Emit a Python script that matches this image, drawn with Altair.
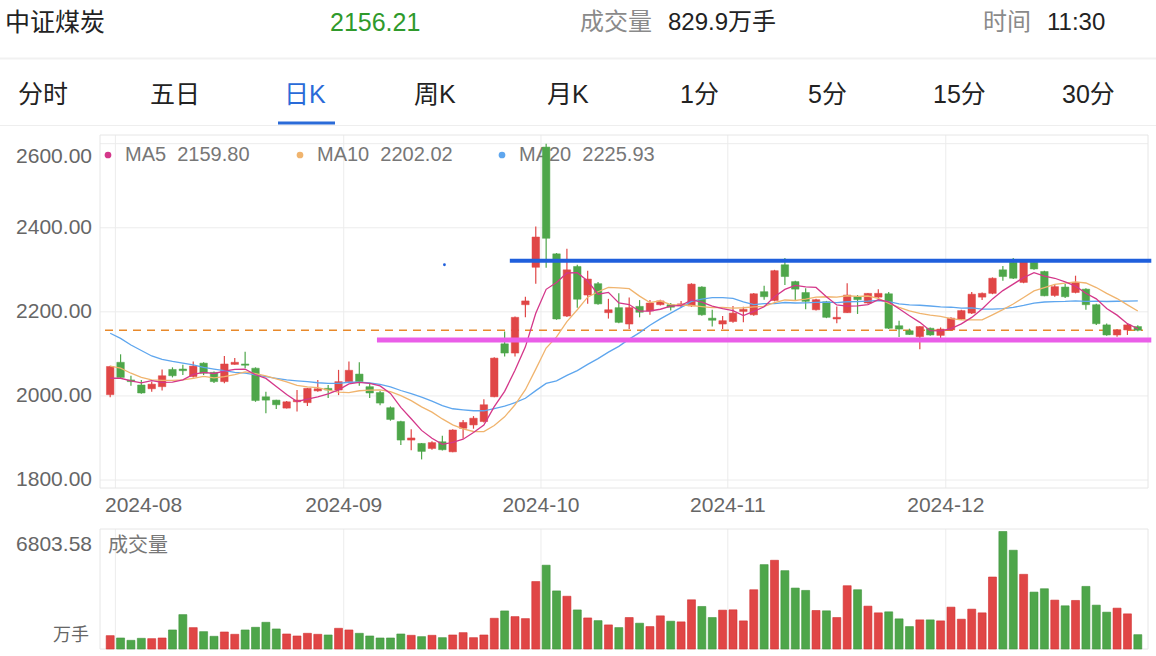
import altair as alt
import pandas as pd

# ---------------- data ----------------
opens = [2003, 2080, 2038, 2026, 2017, 2022, 2063, 2064, 2046, 2078,
         2056, 2034, 2075, 2076, 2066, 1998, 1990, 1971, 1986, 1984,
         2012, 2018, 2014, 2034, 2052, 2022, 2008, 1972, 1939, 1895,
         1887, 1875, 1891, 1867, 1923, 1931, 1939, 1998, 2124, 2102,
         2217, 2306, 2592, 2338, 2190, 2308, 2240, 2267, 2198, 2210,
         2171, 2213, 2202, 2217, 2217, 2214, 2214, 2259, 2185, 2171,
         2177, 2201, 2193, 2248, 2227, 2312, 2272, 2246, 2205, 2224,
         2183, 2198, 2236, 2221, 2235, 2243, 2167, 2155, 2141, 2161,
         2144, 2157, 2183, 2197, 2235, 2244, 2300, 2318, 2270, 2318,
         2296, 2239, 2259, 2246, 2254, 2217, 2169, 2145, 2157, 2165]
closes = [2070, 2044, 2034, 2007, 2028, 2048, 2048, 2060, 2071, 2054,
          2034, 2076, 2080, 2073, 1989, 1990, 1979, 1986, 1990, 2018,
          2017, 2014, 2034, 2061, 2034, 2007, 1983, 1944, 1895, 1900,
          1868, 1889, 1872, 1919, 1937, 1947, 1979, 2090, 2102, 2187,
          2226, 2378, 2375, 2183, 2300, 2230, 2278, 2219, 2205, 2175,
          2210, 2199, 2221, 2226, 2211, 2219, 2266, 2193, 2180, 2179,
          2197, 2206, 2243, 2236, 2298, 2284, 2254, 2225, 2229, 2187,
          2187, 2240, 2229, 2244, 2244, 2161, 2159, 2146, 2165, 2145,
          2159, 2185, 2203, 2242, 2244, 2280, 2284, 2280, 2319.4, 2302,
          2238.2, 2260, 2236, 2270, 2217, 2171.8, 2145, 2157, 2169, 2156.21]
highs = [2072, 2099, 2048, 2038, 2034, 2063, 2068, 2074, 2082, 2080,
         2058, 2095, 2090, 2105, 2068, 2010, 1991, 1988, 2014, 2019,
         2038, 2026, 2062, 2082, 2080, 2031, 2012, 1975, 1941, 1921,
         1888, 1892, 1905, 1921, 1943, 1952, 1992, 2092, 2153, 2189,
         2236, 2403, 2600, 2340, 2350, 2312, 2298, 2271, 2231, 2244,
         2234, 2228, 2228, 2229, 2221, 2226, 2268, 2261, 2205, 2190,
         2214, 2212, 2245, 2262, 2300, 2328, 2274, 2256, 2231, 2226,
         2213, 2268, 2240, 2245, 2254, 2247, 2179, 2160, 2166, 2163,
         2163, 2187, 2205, 2247, 2246, 2282, 2309, 2328, 2322, 2320,
         2298, 2266, 2266, 2286, 2256, 2219, 2172, 2159, 2172, 2168]
lows = [1997, 2042, 2024, 2005, 2010, 2013, 2044, 2050, 2044, 2050,
        2031, 2030, 2074, 2066, 1986, 1959, 1969, 1970, 1963, 1976,
        2010, 1995, 2002, 2032, 2024, 1995, 1978, 1941, 1883, 1871,
        1849, 1872, 1870, 1866, 1899, 1922, 1937, 1997, 2094, 2094,
        2187, 2267, 2305, 2181, 2188, 2210, 2219, 2217, 2184, 2173,
        2159, 2187, 2193, 2215, 2203, 2209, 2212, 2191, 2165, 2159,
        2174, 2175, 2191, 2229, 2225, 2264, 2227, 2206, 2203, 2185,
        2173, 2197, 2195, 2219, 2233, 2159, 2140, 2145, 2111, 2143,
        2136, 2155, 2181, 2195, 2228, 2242, 2274, 2278, 2268, 2300,
        2237, 2236, 2233, 2244, 2205, 2169, 2143, 2141, 2145, 2154]
volumes = [773, 638, 503, 619, 599, 638, 1102, 1991, 1237, 1005,
           735, 986, 851, 1102, 1256, 1546, 1160, 870, 754, 909,
           851, 812, 1198, 1102, 909, 754, 638, 638, 870, 793,
           715, 793, 657, 812, 947, 657, 812, 1778, 2204, 1875,
           1759, 3905, 4852, 3363, 3054, 2262, 1798, 1643, 1395, 1240,
           1822, 1493, 1299, 1919, 1609, 1570, 2849, 2462, 1822, 2249,
           2268, 1628, 3431, 4885, 5137, 4536, 3528, 3392, 2229, 2210,
           1822, 3664, 3431, 2481, 2093, 2152, 1745, 1299, 1686, 1686,
           1628, 2423, 1725, 2307, 2093, 4168, 6803.58, 5718, 4323, 3295,
           3489, 2830, 2501, 2811, 3625, 2539, 2132, 2365, 2035, 829.9]
# moving-average values before a full window exists
ma5_head = [2042, 2042, 2036, 2031]
ma10_head = [2071, 2066, 2054, 2044, 2038, 2037, 2037, 2038, 2042]
ma20_head = [2149, 2137, 2121, 2108, 2095, 2087, 2082, 2078, 2074, 2068,
             2064, 2060, 2056, 2054, 2050, 2046, 2042, 2038, 2036]

month_labels = ["2024-08", "2024-09", "2024-10", "2024-11", "2024-12"]
month_first_idx = [1, 23, 42, 60, 81]
price_ticks = [1800, 2000, 2200, 2400, 2600]
vol_max = 6803.58
support_level, support_from = 2133.3, 25.7
resist_level, resist_from = 2321.4, 38.5
line_to = 100.3
dot_idx, dot_val = 32.2, 2312

tabs = ["分时", "五日", "日K", "周K", "月K", "1分", "5分", "15分", "30分"]
tab_x = [18, 150, 284, 414, 547, 680, 808, 933, 1062]

# ---------------- derived tables ----------------
n = len(closes)
df = pd.DataFrame({"i": list(range(n)), "open": opens, "close": closes,
                   "high": highs, "low": lows, "vol": volumes})
s = pd.Series(closes)
ma5 = s.rolling(5).mean()
ma10 = s.rolling(10).mean()
ma20 = s.rolling(20).mean()
ma5.iloc[:4] = ma5_head
ma10.iloc[:9] = ma10_head
ma20.iloc[:19] = ma20_head
df["ma5"], df["ma10"], df["ma20"] = ma5.values, ma10.values, ma20.values
up = df[df["close"] >= df["open"]]
down = df[df["close"] < df["open"]]

FONT = "Liberation Sans, Noto Sans CJK SC, sans-serif"
RED, GREEN = "#e04646", "#4ea64a"
C5, C10, C20 = "#d4378a", "#f0b46e", "#5ea6ee"
AX = 21  # axis label size
NB = "\u00a0"

XS = alt.Scale(domain=[-0.5, n - 0.5], range=[100, 1148], nice=False, zero=False)
PY = alt.Scale(domain=[1800, 2600], range=[480, 143.7], nice=False, zero=False)
VY = alt.Scale(domain=[0, vol_max], range=[649, 531.5], nice=False, zero=True)

one = pd.DataFrame({"k": [0]})


def X(f):
    return alt.X(f, type="quantitative", scale=XS, axis=None)


def PYenc(f):
    return alt.Y(f, type="quantitative", scale=PY, axis=None)


def label(s, x, y, size, color, align="left", baseline="middle"):
    return alt.Chart(one).mark_text(text=s, align=align, baseline=baseline, fontSize=size,
                                    color=color, font=FONT).encode(x=alt.value(x), y=alt.value(y))


def hline(x1, x2, y, color, w):
    return alt.Chart(one).mark_rule(color=color, strokeWidth=w).encode(
        x=alt.value(x1), x2=alt.value(x2), y=alt.value(y))


layers = []
# header
layers += [
    label("中证煤炭", 5, 23, 25, "#222222"),
    label(f"{closes[-1]:.2f}", 330, 23, 25, "#2f9a2c"),
    label("成交量", 580, 23, 24, "#8a8a8a"),
    label(f"{volumes[-1]:.1f}万手", 668, 23, 24, "#222222"),
    label("时间", 983, 23, 24, "#8a8a8a"),
    label("11:30", 1047, 23, 24, "#222222"),
    hline(0, 1156, 58.5, "#f1f1f1", 2),
]
for t, x in zip(tabs, tab_x):
    layers.append(label(t, x, 95, 25, "#2a6bd8" if t == "日K" else "#222222"))
layers += [hline(278, 335, 123, "#2a6bd8", 3), hline(0, 1156, 125.5, "#eeeeee", 1)]

# price panel grid and frame
gy = pd.DataFrame({"v": price_ticks})
gm = pd.DataFrame({"b": [k - 0.5 for k in month_first_idx], "lab": month_labels})
layers += [
    alt.Chart(gy).mark_rule(color="#ececec", strokeWidth=1).encode(
        y=PYenc("v"), x=alt.value(100), x2=alt.value(1148)),
    alt.Chart(gm).mark_rule(color="#ececec", strokeWidth=1).encode(
        x=X("b"), y=alt.value(135), y2=alt.value(488)),
    alt.Chart(gm).mark_rule(color="#ececec", strokeWidth=1).encode(
        x=X("b"), y=alt.value(529), y2=alt.value(649)),
    alt.Chart(one).mark_rect(fillOpacity=0, stroke="#e6e6e6", strokeWidth=1).encode(
        x=alt.value(100), x2=alt.value(1148), y=alt.value(135), y2=alt.value(488)),
    alt.Chart(one).mark_rect(fillOpacity=0, stroke="#e6e6e6", strokeWidth=1).encode(
        x=alt.value(100), x2=alt.value(1148), y=alt.value(529), y2=alt.value(649)),
]
# y labels
layers += [
    alt.Chart(gy[gy["v"] < max(price_ticks)]).mark_text(align="right", baseline="middle", fontSize=AX,
                                                       color="#666666", font=FONT).encode(
        y=PYenc("v"), x=alt.value(92), text=alt.Text("v:Q", format=".2f")),
    alt.Chart(gy[gy["v"] == max(price_ticks)]).mark_text(align="right", baseline="top", fontSize=AX, dy=2,
                                                        color="#666666", font=FONT).encode(
        y=PYenc("v"), x=alt.value(92), text=alt.Text("v:Q", format=".2f")),
]
# x labels
first = gm.iloc[:1].assign(b=-0.5)
layers += [
    alt.Chart(first).mark_text(align="left", baseline="middle", fontSize=AX, color="#666666",
                               font=FONT).encode(x=X("b"), y=alt.value(506), text="lab:N"),
    alt.Chart(gm.iloc[1:]).mark_text(align="center", baseline="middle", fontSize=AX, color="#666666",
                                     font=FONT).encode(x=X("b"), y=alt.value(506), text="lab:N"),
]
# legend
for name, col, vals, dx in [("MA5", C5, ma5, 108), ("MA10", C10, ma10, 300), ("MA20", C20, ma20, 502)]:
    layers.append(alt.Chart(one).mark_point(filled=True, size=45, color=col, opacity=1).encode(
        x=alt.value(dx), y=alt.value(155)))
    layers.append(label(f"{name}{NB}{NB}{vals.iloc[-1]:.2f}", dx + 17, 155, 20, "#777777"))

# reference lines
refs_dash = pd.DataFrame({"v": [closes[-1]], "a": [-0.5], "b": [n - 0.5]})
refs_sup = pd.DataFrame({"v": [support_level], "a": [support_from], "b": [line_to]})
refs_res = pd.DataFrame({"v": [resist_level], "a": [resist_from], "b": [line_to]})
layers += [
    alt.Chart(refs_dash).mark_rule(color="#e8892b", strokeWidth=1.5, strokeDash=[8, 6]).encode(
        x=X("a"), x2="b:Q", y=PYenc("v")),
]

# candles
for d, col in [(up, RED), (down, GREEN)]:
    layers.append(alt.Chart(d).mark_rule(color=col, strokeWidth=1.2).encode(
        x=X("i"), y=PYenc("low"), y2="high:Q"))
    layers.append(alt.Chart(d).mark_bar(size=7.5, color=col, stroke=col, strokeWidth=0.5).encode(
        x=X("i"), y=PYenc("open"), y2="close:Q"))

# moving averages
for f, col in [("ma20", C20), ("ma10", C10), ("ma5", C5)]:
    layers.append(alt.Chart(df).mark_line(color=col, strokeWidth=1.3).encode(x=X("i"), y=PYenc(f)))

layers += [
    alt.Chart(refs_sup).mark_rule(color="#ea5ee8", strokeWidth=5).encode(x=X("a"), x2="b:Q", y=PYenc("v")),
    alt.Chart(refs_res).mark_rule(color="#1f5fdc", strokeWidth=4).encode(x=X("a"), x2="b:Q", y=PYenc("v")),
    alt.Chart(pd.DataFrame({"i": [dot_idx], "v": [dot_val]})).mark_point(
        filled=True, size=8, color="#1f5fdc", opacity=1).encode(x=X("i"), y=PYenc("v")),
]

# volume panel
for d, col, stk in [(up, RED, "#d13030"), (down, GREEN, "#3f943c")]:
    layers.append(alt.Chart(d).mark_bar(size=8, color=col, stroke=stk, strokeWidth=0.6).encode(
        x=X("i"), y=alt.Y("vol:Q", scale=VY, axis=None)))
layers += [
    label(f"{vol_max:.2f}", 92, 545, AX, "#666666", align="right"),
    label("万手", 89, 636, 18, "#666666", align="right"),
    label("成交量", 108, 546, 20, "#777777"),
]

chart = alt.layer(*layers).resolve_scale(y="independent").properties(
    width=1156, height=656, autosize=alt.AutoSizeParams(type="none"), padding=0, background="white"
).configure_view(stroke=None)

chart.save("out.html", embed_options={"renderer": "svg", "actions": False})
